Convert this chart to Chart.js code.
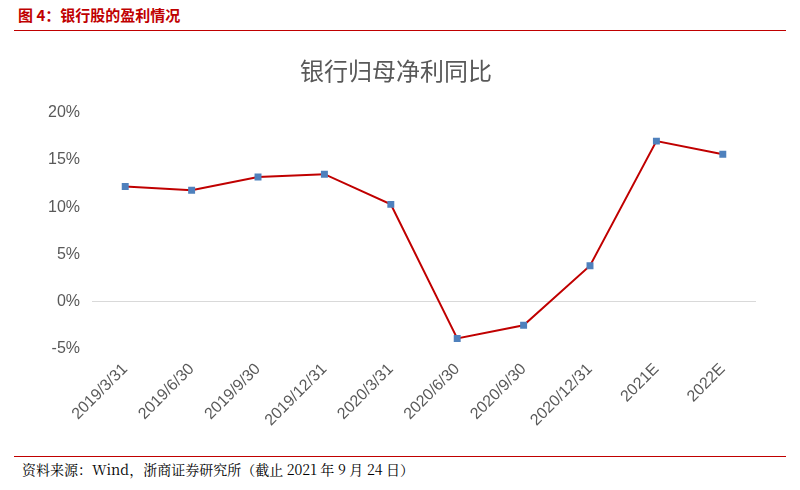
<!DOCTYPE html>
<html><head><meta charset="utf-8">
<script src="https://cdn.jsdelivr.net/npm/chart.js@4"></script>
<style>
body{margin:0;background:#fff;font-family:"Noto Sans CJK SC",sans-serif;width:800px;height:490px;position:relative;overflow:hidden}
#hdr{position:absolute;left:18px;top:4px;color:#c00000;font-weight:bold;font-size:15px}
#hl{position:absolute;left:14px;right:14px;top:30px;border-top:1.5px solid #c00000}
#wrap{position:absolute;left:14px;top:36px;width:772px;height:414px}
#fl{position:absolute;left:14px;right:14px;top:456px;border-top:1px solid #c00000}
#src{position:absolute;left:22px;top:459px;font-size:14px;font-family:"Noto Serif CJK SC","Noto Sans CJK SC",serif}
</style></head><body>
<div id="hdr">图 4：银行股的盈利情况</div><div id="hl"></div>
<div id="wrap"><canvas id="c"></canvas></div>
<div id="fl"></div>
<div id="src">资料来源：Wind，浙商证券研究所（截止 2021 年 9 月 24 日）</div>
<script>
const categories = ['2019/3/31','2019/6/30','2019/9/30','2019/12/31','2020/3/31','2020/6/30','2020/9/30','2020/12/31','2021E','2022E'];
const profitGrowth = [12.2, 11.8, 13.2, 13.5, 10.3, -3.9, -2.5, 3.8, 17.0, 15.6];
const textColor = '#595959';
new Chart(document.getElementById('c'), {
    type: 'line',
    data: {
        labels: categories,
        datasets: [{
            data: profitGrowth,
            borderColor: '#c00000',
            borderWidth: 2,
            pointStyle: 'rect',
            pointRadius: 3.5,
            pointBackgroundColor: '#4f81bd',
            pointBorderColor: '#4f81bd',
            tension: 0
        }]
    },
    options: {
        responsive: true,
        maintainAspectRatio: false,
        animation: false,
        layout: { padding: { left: 22, right: 30, top: 8, bottom: 17 } },
        plugins: {
            legend: { display: false },
            title: {
                display: true,
                text: '银行归母净利同比',
                color: textColor,
                font: { size: 24, family: 'Noto Sans CJK SC', weight: 'normal' },
                padding: { top: 12, bottom: 28 }
            }
        },
        scales: {
            x: {
                offset: true,
                grid: { display: false },
                border: { display: false },
                ticks: { color: textColor, font: { size: 16 }, maxRotation: 45, minRotation: 45 }
            },
            y: {
                min: -5, max: 20,
                border: { display: false },
                grid: { color: ctx => ctx.tick.value === 0 ? '#d9d9d9' : 'transparent', drawTicks: false },
                ticks: { stepSize: 5, color: textColor, font: { size: 16 }, padding: 12,
                    callback: v => v + '%' }
            }
        }
    }
});
</script>
</body></html>
